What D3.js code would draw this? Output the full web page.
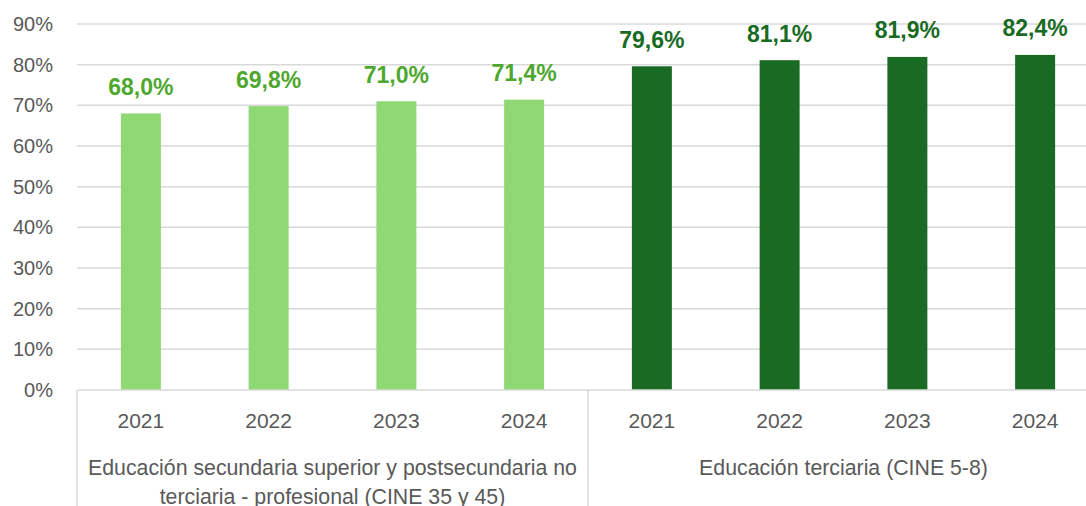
<!DOCTYPE html>
<html>
<head>
<meta charset="utf-8">
<script src="https://cdn.jsdelivr.net/npm/d3@7"></script>
<style>
body{margin:0;background:#fff;}
svg{display:block;font-family:"Liberation Sans",Arial,sans-serif;}
</style>
</head>
<body>
<svg id="chart"></svg>
<script>
var screen = {width:1086,height:506}
// data
var years = ["2021","2022","2023","2024","2021","2022","2023","2024"]
var values = [68.0,69.8,71.0,71.4,79.6,81.1,81.9,82.4]
var groups = [
    {name:["Educación secundaria superior y postsecundaria no","terciaria - profesional (CINE 35 y 45)"], from:0, to:4},
    {name:["Educación terciaria (CINE 5-8)"], from:4, to:8}
]
var yTicks = [0,10,20,30,40,50,60,70,80,90]
var barColors = ["#8ED973","#196B24"]
var labelColors = ["#4EA72E","#196B24"]

var plot = {left:77,right:1099,top:24,bottom:390}
var grey = "#595959", lineGrey = "#D9D9D9"

var svg = d3.select("#chart")
    .attr("width",screen.width)
    .attr("height",screen.height)

var xScale = d3.scaleBand()
    .domain(d3.range(values.length))
    .range([plot.left,plot.right])
    .paddingInner(0.687)
    .paddingOuter(0.3435)

var yScale = d3.scaleLinear()
    .domain([0,90])
    .range([plot.bottom,plot.top])

var colorOf = function(i){return i<4 ? 0 : 1}

//gridlines
svg.append("g")
    .selectAll("line")
    .data(yTicks.slice(1))
    .enter()
    .append("line")
    .attr("x1",plot.left)
    .attr("x2",plot.right)
    .attr("y1",function(d){return yScale(d)})
    .attr("y2",function(d){return yScale(d)})
    .attr("stroke",lineGrey)
    .attr("stroke-width",1.5)

//y axis labels
var yAxis = d3.axisLeft(yScale)
    .tickValues(yTicks)
    .tickFormat(function(d){return d+"%"})
    .tickSize(0)
    .tickPadding(24)
var yG = svg.append("g")
    .attr("transform","translate("+plot.left+",0)")
    .call(yAxis)
yG.select(".domain").remove()
yG.selectAll("text")
    .attr("fill",grey)
    .attr("font-size","20px")
    .attr("font-family","Liberation Sans, Arial, sans-serif")

//bars
svg.append("g")
    .selectAll("rect")
    .data(values)
    .enter()
    .append("rect")
    .attr("x",function(d,i){return xScale(i)})
    .attr("width",xScale.bandwidth())
    .attr("y",function(d){return yScale(d)})
    .attr("height",function(d){return yScale(0)-yScale(d)})
    .attr("fill",function(d,i){return barColors[colorOf(i)]})

//value labels
svg.append("g")
    .selectAll("text")
    .data(values)
    .enter()
    .append("text")
    .attr("x",function(d,i){return xScale(i)+xScale.bandwidth()/2})
    .attr("y",function(d){return yScale(d)-18.5})
    .attr("text-anchor","middle")
    .attr("font-weight","bold")
    .attr("font-size","23px")
    .attr("fill",function(d,i){return labelColors[colorOf(i)]})
    .text(function(d){return d.toFixed(1).replace(".",",")+"%"})

//x axis line
svg.append("line")
    .attr("x1",plot.left)
    .attr("x2",plot.right)
    .attr("y1",plot.bottom)
    .attr("y2",plot.bottom)
    .attr("stroke",lineGrey)
    .attr("stroke-width",1.5)

//group separators
var step = xScale.step()
var seps = [0,4,8]
svg.append("g")
    .selectAll("line")
    .data(seps)
    .enter()
    .append("line")
    .attr("x1",function(i){return plot.left+i*step})
    .attr("x2",function(i){return plot.left+i*step})
    .attr("y1",plot.bottom)
    .attr("y2",screen.height)
    .attr("stroke",lineGrey)
    .attr("stroke-width",1.5)

//year labels
svg.append("g")
    .selectAll("text")
    .data(years)
    .enter()
    .append("text")
    .attr("x",function(d,i){return xScale(i)+xScale.bandwidth()/2})
    .attr("y",428)
    .attr("text-anchor","middle")
    .attr("font-size","21px")
    .attr("fill",grey)
    .text(function(d){return d})

//group labels
var gl = svg.append("g")
    .selectAll("text")
    .data(groups)
    .enter()
    .append("text")
    .attr("x",function(g){return plot.left+(g.from+g.to)/2*step})
    .attr("y",475)
    .attr("text-anchor","middle")
    .attr("font-size","21.3px")
    .attr("fill",grey)
gl.selectAll("tspan")
    .data(function(g){return g.name})
    .enter()
    .append("tspan")
    .attr("x",function(){return d3.select(this.parentNode).attr("x")})
    .attr("dy",function(d,i){return i==0 ? 0 : 29})
    .text(function(d){return d})
</script>
</body>
</html>
